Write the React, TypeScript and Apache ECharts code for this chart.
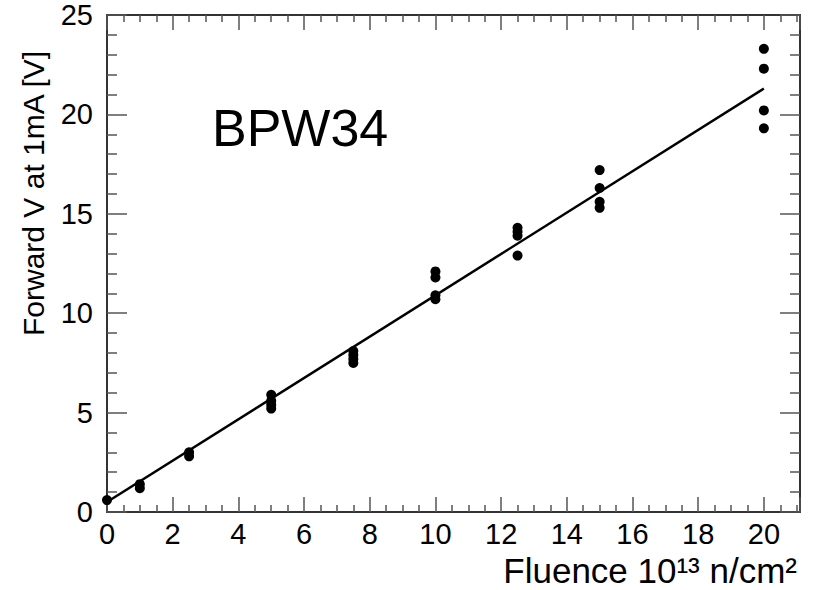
import React, { useEffect, useRef } from "react";
import * as echarts from "echarts";

const fluence0: number[] = [0, 1, 1, 2.5, 2.5];
const volts0: number[] = [0.6, 1.2, 1.4, 2.8, 3.0];
const fluence5: number[] = [5, 5, 5, 5, 7.5, 7.5, 7.5, 7.5];
const volts5: number[] = [5.9, 5.6, 5.4, 5.2, 8.1, 7.9, 7.7, 7.5];
const fluence10: number[] = [10, 10, 10, 10, 12.5, 12.5, 12.5, 12.5];
const volts10: number[] = [12.1, 11.8, 10.9, 10.7, 14.3, 14.1, 13.9, 12.9];
const fluence15: number[] = [15, 15, 15, 15, 20, 20, 20, 20];
const volts15: number[] = [17.2, 16.3, 15.6, 15.3, 23.3, 22.3, 20.2, 19.3];
const fitX: number[] = [0, 20];
const fitY: number[] = [0.5, 21.3];

const xTicks: number[] = [0, 2, 4, 6, 8, 10, 12, 14, 16, 18, 20];
const yTicks: number[] = [0, 5, 10, 15, 20, 25];

export default function App() {
  const ref = useRef<HTMLDivElement>(null);
  useEffect(() => {
    if (!ref.current) return;
    const chart = echarts.init(ref.current, undefined, { renderer: "svg" });
    const pts: number[][] = [];
    const xs = [...fluence0, ...fluence5, ...fluence10, ...fluence15];
    const ys = [...volts0, ...volts5, ...volts10, ...volts15];
    xs.forEach((x, i) => pts.push([x, ys[i]]));
    const fit = fitX.map((x, i) => [x, fitY[i]]);
    const font = "'Liberation Sans', Arial, sans-serif";
    const frame = { show: true, onZero: false, lineStyle: { color: "#333", width: 2 } };
    const tickStyle = { color: "#555", width: 1.5 };
    const baseX = {
      type: "value" as const,
      min: xTicks[0],
      max: 21.1,
      interval: 2,
      splitLine: { show: false },
      axisLine: frame,
    };
    const baseY = {
      type: "value" as const,
      min: yTicks[0],
      max: yTicks[yTicks.length - 1],
      interval: 5,
      splitLine: { show: false },
      axisLine: frame,
    };
    chart.setOption({
      animation: false,
      backgroundColor: "#fff",
      grid: { left: 107, right: 23, top: 15, bottom: 78, containLabel: false },
      xAxis: [
        {
          ...baseX,
          position: "bottom",
          axisTick: { show: true, inside: true, length: 15, lineStyle: tickStyle },
          minorTick: { show: true, splitNumber: 4, length: 7, lineStyle: tickStyle },
          axisLabel: {
            show: true,
            fontSize: 29,
            color: "#000",
            fontFamily: font,
            margin: 7,
            showMaxLabel: false,
            formatter: (v: number) => (xTicks.includes(v) ? String(v) : ""),
          },
        },
        {
          ...baseX,
          position: "top",
          axisTick: { show: true, inside: true, length: 15, lineStyle: tickStyle },
          minorTick: { show: true, splitNumber: 4, length: 7, lineStyle: tickStyle },
          axisLabel: { show: false },
        },
      ],
      yAxis: [
        {
          ...baseY,
          position: "left",
          axisTick: { show: true, inside: true, length: 20, lineStyle: tickStyle },
          minorTick: { show: true, splitNumber: 5, length: 10, lineStyle: tickStyle },
          axisLabel: {
            show: true,
            fontSize: 29,
            color: "#000",
            fontFamily: font,
            margin: 14,
          },
        },
        {
          ...baseY,
          position: "right",
          axisTick: { show: true, inside: true, length: 20, lineStyle: tickStyle },
          minorTick: { show: true, splitNumber: 5, length: 10, lineStyle: tickStyle },
          axisLabel: { show: false },
        },
      ],
      series: [
        {
          type: "line",
          data: fit,
          showSymbol: false,
          symbol: "none",
          lineStyle: { color: "#000", width: 2.5 },
          silent: true,
          z: 2,
        },
        {
          type: "scatter",
          data: pts,
          symbol: "circle",
          symbolSize: 10,
          itemStyle: { color: "#000", opacity: 1 },
          z: 3,
        },
      ],
      graphic: [
        {
          type: "text",
          left: 212,
          top: 102,
          style: { text: "BPW34", font: `52px ${font}`, fill: "#000" },
        },
        {
          type: "text",
          x: 18,
          y: 336,
          rotation: Math.PI / 2,
          style: { text: "Forward V at 1mA [V]", font: `30px ${font}`, fill: "#000", textAlign: "left", textVerticalAlign: "top" },
        },
        {
          type: "text",
          right: 26,
          top: 553,
          style: { text: "Fluence 10¹³ n/cm²", font: `35px ${font}`, fill: "#000" },
        },
      ],
    });
    return () => chart.dispose();
  }, []);
  return (
    <div
      ref={ref}
      style={{ position: "fixed", left: 0, top: 0, width: 823, height: 590, background: "#fff" }}
    />
  );
}
